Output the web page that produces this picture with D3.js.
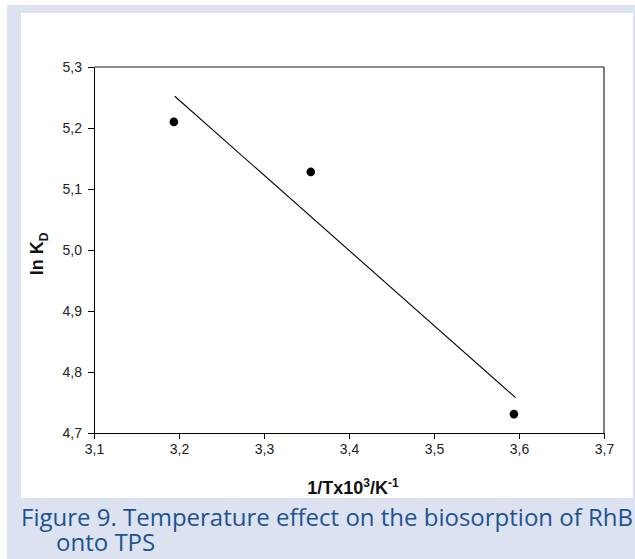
<!DOCTYPE html>
<html><head><meta charset="utf-8">
<script src="https://cdn.jsdelivr.net/npm/d3@7"></script>
<style>body{margin:0;background:#fff}svg{display:block}</style>
</head><body>
<script>
const xValues = [3.194, 3.355, 3.594];
const yValues = [5.210, 5.128, 4.731];
const fitX = [3.195, 3.596];
const fitY = [5.252, 4.758];
const xTicks = [3.1, 3.2, 3.3, 3.4, 3.5, 3.6, 3.7];
const yTicks = [4.7, 4.8, 4.9, 5.0, 5.1, 5.2, 5.3];
const xTitle = "1/Tx10";
const yTitle = "ln K";
const captionLines = ["Figure 9. Temperature effect on the biosorption of RhB", "onto TPS"];

const W = 635, H = 559;
const svg = d3.select("body").append("svg").attr("width", W).attr("height", H);
svg.append("rect").attr("x", 7).attr("y", 5).attr("width", W - 7).attr("height", H - 5).attr("fill", "#dde2f0");
svg.append("rect").attr("x", 21).attr("y", 13).attr("width", 612).attr("height", 485).attr("fill", "#fff");

const x = d3.scaleLinear().domain([3.1, 3.7]).range([94, 604]);
const y = d3.scaleLinear().domain([4.7, 5.3]).range([433, 67]);
const fmt = d => d3.format(".1f")(d).replace(".", ",");

const font = "'Liberation Sans', Arial, sans-serif";
const gx = svg.append("g").attr("transform", `translate(0,${y(4.7)})`)
  .call(d3.axisBottom(x).tickValues(xTicks).tickFormat(fmt).tickSizeOuter(0).tickSize(6).tickPadding(5));
const gy = svg.append("g").attr("transform", `translate(${x(3.1)},0)`)
  .call(d3.axisLeft(y).tickValues(yTicks).tickFormat(fmt).tickSizeOuter(0).tickSize(6).tickPadding(6));
[gx, gy].forEach(g => {
  g.selectAll("text").attr("font-family", font).attr("font-size", 14).attr("fill", "#222");
  g.selectAll("line,path").attr("stroke", "#000");
});
// top and right frame
svg.append("line").attr("x1", x(3.1)).attr("x2", x(3.7)).attr("y1", y(5.3)).attr("y2", y(5.3))
  .attr("stroke", "#666").attr("stroke-width", 1.6);
svg.append("line").attr("x1", x(3.7)).attr("x2", x(3.7)).attr("y1", y(5.3)).attr("y2", y(4.7))
  .attr("stroke", "#000").attr("stroke-width", 1);

// fit line
svg.append("line").attr("x1", x(fitX[0])).attr("y1", y(fitY[0])).attr("x2", x(fitX[1])).attr("y2", y(fitY[1]))
  .attr("stroke", "#000").attr("stroke-width", 1.1);
// points
svg.selectAll("circle.pt").data(xValues).join("circle").attr("class", "pt")
  .attr("cx", d => x(d)).attr("cy", (d, i) => y(yValues[i])).attr("r", 4.3).attr("fill", "#000");

// axis titles
const xt = svg.append("text").attr("x", 353).attr("y", 494).attr("text-anchor", "middle")
  .attr("font-family", font).attr("font-weight", "bold").attr("font-size", 18).attr("fill", "#111");
xt.append("tspan").text(xTitle);
xt.append("tspan").attr("dy", -7).attr("font-size", 12).text("3");
xt.append("tspan").attr("dy", 7).text("/K");
xt.append("tspan").attr("dy", -7).attr("font-size", 12).text("-1");

const yt = svg.append("text").attr("transform", "translate(43,254) rotate(-90)").attr("text-anchor", "middle")
  .attr("font-family", font).attr("font-weight", "bold").attr("font-size", 18).attr("fill", "#111");
yt.append("tspan").text(yTitle);
yt.append("tspan").attr("dy", 5).attr("font-size", 12).text("D");

// caption
svg.selectAll("text.cap").data(captionLines).join("text").attr("class", "cap")
  .attr("x", (d, i) => i === 0 ? 21 : 56).attr("y", (d, i) => 526 + i * 25)
  .attr("font-family", "'Open Sans', 'Noto Sans', sans-serif").attr("font-size", 24).attr("fill", "#1d5393")
  .text(d => d);
</script>
</body></html>
